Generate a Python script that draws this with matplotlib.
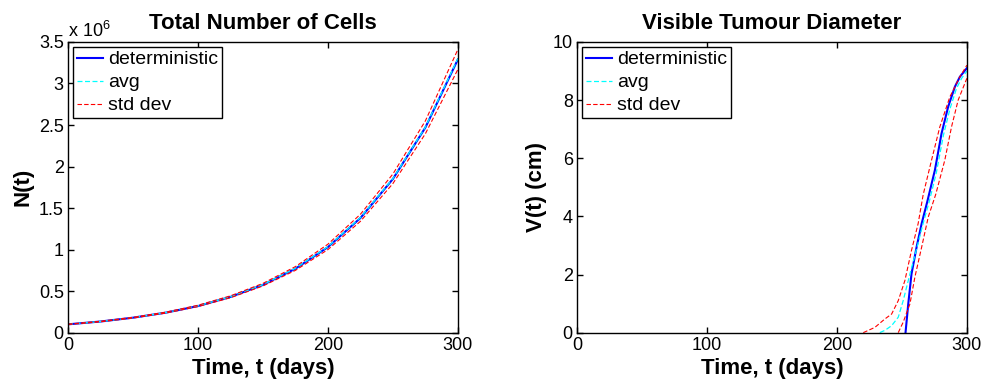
'''Recreates the two-panel tumour growth figure (cell count and visible diameter).'''
import numpy as np
import matplotlib
matplotlib.use("Agg")
import matplotlib.pyplot as plt

plt.rcParams['font.family'] = ['Liberation Sans', 'DejaVu Sans']
plt.rcParams['mathtext.default'] = 'regular'

# left panel: total number of cells (in units of 1e6)
t_cells = [0, 25, 50, 75, 100, 125, 150, 175, 200, 225, 250, 275, 300]
n_det = [0.100, 0.134, 0.180, 0.240, 0.320, 0.430, 0.575, 0.770, 1.030, 1.380, 1.850, 2.470, 3.290]
n_avg = [0.100, 0.134, 0.180, 0.241, 0.322, 0.432, 0.578, 0.775, 1.035, 1.385, 1.855, 2.475, 3.300]
n_upper = [0.102, 0.137, 0.184, 0.246, 0.330, 0.443, 0.593, 0.795, 1.065, 1.425, 1.910, 2.550, 3.410]
n_lower = [0.098, 0.131, 0.176, 0.235, 0.314, 0.420, 0.562, 0.750, 1.000, 1.340, 1.795, 2.395, 3.170]

# right panel: visible tumour diameter (cm), only where it is above zero
t_det = [252.8, 254.9, 257.4, 261.3, 265.2, 269.5, 275.4, 280.5, 285.6, 290.8, 294.6, 300]
v_det = [0, 0.99, 2.02, 2.94, 3.75, 4.5, 5.59, 6.85, 7.77, 8.46, 8.8, 9.1]
t_avg = [233, 237, 242.1, 247.2, 251, 256.2, 262, 266, 271, 276.5, 282, 287, 292, 296, 300]
v_avg = [0, 0.08, 0.24, 0.53, 1.1, 2.02, 3.0, 3.7, 4.5, 5.5, 6.8, 7.7, 8.4, 8.75, 9.0]
t_up = [220.3, 229.2, 236.9, 242.1, 247.2, 252.3, 257.4, 262.5, 266.4, 272.8, 279.2, 286.9, 294.6, 300]
v_up = [0, 0.18, 0.47, 0.64, 1.1, 1.79, 2.83, 3.75, 4.75, 5.93, 7.08, 8.11, 8.8, 9.2]
t_lo = [247.2, 251, 256.2, 260, 265.2, 270.3, 276, 283, 288.2, 293.3, 300]
v_lo = [0, 0.36, 0.99, 1.91, 2.94, 3.98, 4.75, 5.93, 7.08, 8.0, 8.75]

x_ticks = [0, 100, 200, 300]
n_ticks = [0, 0.5, 1, 1.5, 2, 2.5, 3, 3.5]
n_tick_labels = ['0', '0.5', '1', '1.5', '2', '2.5', '3', '3.5']
v_ticks = [0, 2, 4, 6, 8, 10]

fig = plt.figure(figsize=(9.87, 3.85), dpi=100)
ax1 = fig.add_axes([0.0689, 0.136, 0.395, 0.755])
ax2 = fig.add_axes([0.5846, 0.136, 0.395, 0.755])

dash = (4, 2)


def style_axes(ax):
    for s in ax.spines.values():
        s.set_linewidth(1.0)
    ax.tick_params(direction='in', length=4, width=1.0, top=True, right=True,
                   labelsize=13, pad=3)
    ax.set_xlim(0, 300)
    ax.set_xticks(x_ticks)
    ax.set_xlabel('Time, t (days)', fontsize=16, fontweight='bold', labelpad=3)


# left panel
ax1.plot(t_cells, n_det, color='blue', lw=1.5, label='deterministic')
ax1.plot(t_cells, n_avg, color='cyan', lw=0.9, dashes=dash, label='avg')
ax1.plot(t_cells, n_upper, color='red', lw=0.8, dashes=dash, label='std dev')
ax1.plot(t_cells, n_lower, color='red', lw=0.8, dashes=dash)
style_axes(ax1)
ax1.set_ylim(0, 3.5)
ax1.set_yticks(n_ticks)
ax1.set_yticklabels(n_tick_labels)
ax1.set_ylabel('N(t)', fontsize=16, fontweight='bold', labelpad=4)
ax1.set_title('Total Number of Cells', fontsize=16, fontweight='bold', pad=9)
ax1.text(0.0, 1.005, 'x 10$^{6}$', transform=ax1.transAxes, fontsize=13,
         ha='left', va='bottom')

# right panel
ax2.plot(t_det, v_det, color='blue', lw=1.5, label='deterministic')
ax2.plot(t_avg, v_avg, color='cyan', lw=0.9, dashes=dash, label='avg')
ax2.plot(t_up, v_up, color='red', lw=0.8, dashes=dash, label='std dev')
ax2.plot(t_lo, v_lo, color='red', lw=0.8, dashes=dash)
style_axes(ax2)
ax2.set_ylim(0, 10)
ax2.set_yticks(v_ticks)
ax2.set_ylabel('V(t) (cm)', fontsize=16, fontweight='bold', labelpad=4)
ax2.set_title('Visible Tumour Diameter', fontsize=16, fontweight='bold', pad=9)

for ax in (ax1, ax2):
    leg = ax.legend(loc='upper left', fontsize=14, frameon=True, fancybox=False,
                    handlelength=1.35, handletextpad=0.25, labelspacing=0.28,
                    borderpad=0.2, borderaxespad=0.25)
    leg.get_frame().set_edgecolor('black')
    leg.get_frame().set_linewidth(1.0)
    leg.get_frame().set_alpha(1.0)

fig.savefig('out.png', dpi=100)
